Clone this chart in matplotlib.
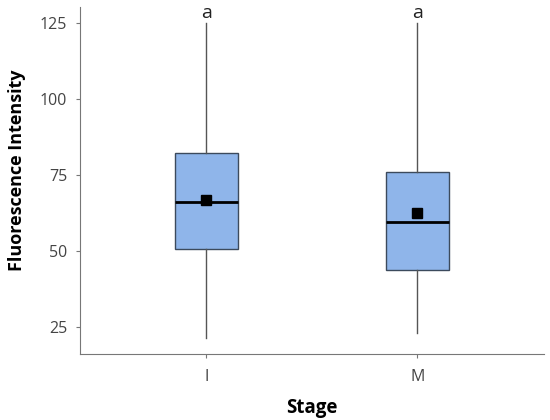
import matplotlib.pyplot as plt

plt.rcParams['font.family'] = ['Open Sans', 'DejaVu Sans']

stages = ['I', 'M']
q1 = [50.8, 43.7]
med = [66.1, 59.5]
q3 = [82.2, 76.1]
wlo = [21.5, 23.0]
whi = [125.0, 125.0]
means = [66.8, 62.4]
letters = ['a', 'a']

stats = []
for i in range(len(stages)):
    stats.append(dict(label=stages[i], q1=q1[i], med=med[i], q3=q3[i],
                      whislo=wlo[i], whishi=whi[i], mean=means[i], fliers=[]))

fig = plt.figure(figsize=(5.5, 4.2), dpi=100)
ax = fig.add_axes([0.145, 0.157, 0.844, 0.826])
pos = [1, 2]
ax.bxp(stats, positions=pos, widths=0.3, patch_artist=True, showmeans=True,
       showcaps=False, showfliers=False,
       boxprops=dict(facecolor='#8fb5ea', edgecolor='#3c4a5c', linewidth=1),
       medianprops=dict(color='black', linewidth=2),
       whiskerprops=dict(color='#555555', linewidth=1),
       meanprops=dict(marker='s', markerfacecolor='black', markeredgecolor='black', markersize=7))

for i in range(len(stages)):
    ax.text(pos[i], whi[i] + 0.4, letters[i], ha='center', va='bottom', fontsize=14, color='#222222')

ax.set_xlim(0.4, 2.6)
ax.set_ylim(16.1, 130.3)
ax.set_yticks([25, 50, 75, 100, 125])
ax.set_xticks(pos)
ax.set_xticklabels(stages)
for s in ['top', 'right']:
    ax.spines[s].set_visible(False)
for s in ['left', 'bottom']:
    ax.spines[s].set_color('#777777')
ax.tick_params(colors='#777777', labelcolor='#444444', labelsize=11.5, length=3)
ax.tick_params(axis='x', pad=8)
ax.tick_params(axis='y', pad=6)
ax.set_xlabel('Stage', fontsize=13.5, fontweight='bold', labelpad=9)
ax.set_ylabel('Fluorescence Intensity', fontsize=13, fontweight='bold')
ax.yaxis.set_label_coords(-0.115, 0.53)

fig.savefig('out.png', dpi=100)
